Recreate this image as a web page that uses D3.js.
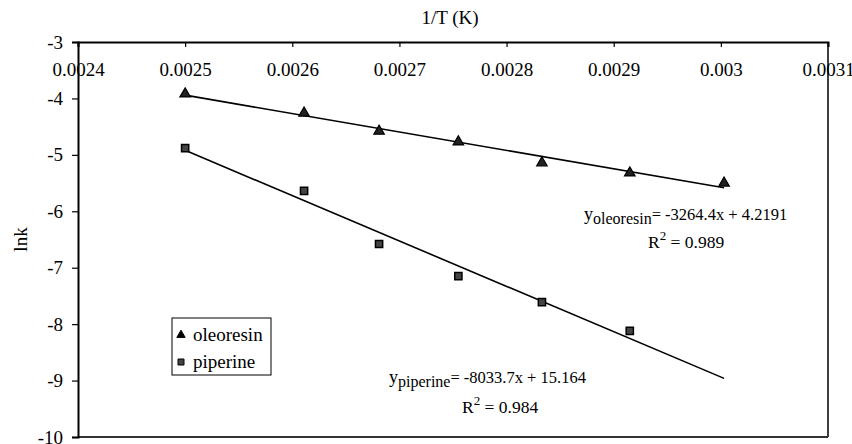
<!DOCTYPE html>
<html>
<head>
<meta charset="utf-8">
<script src="https://cdn.jsdelivr.net/npm/d3@7"></script>
<style>
  html, body { margin: 0; padding: 0; background: #fff; }
  svg text { font-family: "Liberation Serif", "Times New Roman", Times, serif !important; }
</style>
</head>
<body>
<div id="chart"></div>
<script>
// 1/T values (K^-1) and ln k for each series
const invT = [0.0025, 0.002611, 0.002681, 0.002755, 0.002833, 0.002915, 0.003003];
const oleoresin = [-3.92, -4.26, -4.58, -4.77, -5.14, -5.32, -5.50];
const piperine = [-4.88, -5.64, -6.58, -7.15, -7.61, -8.12];

const xTicks = [0.0024, 0.0025, 0.0026, 0.0027, 0.0028, 0.0029, 0.003, 0.0031];
const yTicks = [-3, -4, -5, -6, -7, -8, -9, -10];

// trendline coefficients as printed on the chart
const oleoresinFit = { slope: -3264.4, intercept: 4.2191, r2: '0.989' };
const piperineFit = { slope: -8033.7, intercept: 15.164, r2: '0.984' };

const width = 852, height = 444;
const margin = { top: 42, right: 24, bottom: 7, left: 78 };
const fontSize = 19;

const svg = d3.select('#chart').append('svg')
  .attr('width', width)
  .attr('height', height)
  .attr('font-family', 'Liberation Serif, serif');

const x = d3.scaleLinear()
  .domain([0.0024, 0.0031])
  .range([margin.left, width - margin.right]);
const y = d3.scaleLinear()
  .domain([-3, -10])
  .range([margin.top, height - margin.bottom]);

// plot frame (right and bottom edges)
svg.append('line')
  .attr('x1', x(0.0031)).attr('x2', x(0.0031))
  .attr('y1', y(-3)).attr('y2', y(-10))
  .attr('stroke', '#000').attr('stroke-width', 1.5);
svg.append('line')
  .attr('x1', x(0.0024)).attr('x2', x(0.0031))
  .attr('y1', y(-10)).attr('y2', y(-10))
  .attr('stroke', '#333').attr('stroke-width', 2);

// x axis sits along the top, ticks point into the plot
const xAxis = svg.append('g')
  .attr('transform', `translate(0,${y(-3)})`)
  .call(d3.axisBottom(x).tickValues(xTicks).tickSize(5).tickPadding(16)
    .tickFormat(d => String(+d.toFixed(4))));

const yAxis = svg.append('g')
  .attr('transform', `translate(${x(0.0024)},0)`)
  .call(d3.axisLeft(y).tickValues(yTicks).tickSize(6).tickPadding(9)
    .tickFormat(d => String(d)));

[xAxis, yAxis].forEach(ax => {
  ax.attr('font-family', null).attr('font-size', fontSize);
  ax.select('.domain').attr('stroke', '#000').attr('stroke-width', 2);
  ax.selectAll('.tick line').attr('stroke', '#000').attr('stroke-width', 1.2);
  ax.selectAll('.tick text').attr('fill', '#000');
});

// axis titles
svg.append('text')
  .attr('x', (x(0.0024) + x(0.0031)) / 2 - 3)
  .attr('y', 24)
  .attr('text-anchor', 'middle')
  .attr('font-size', fontSize)
  .text('1/T (K)');

svg.append('text')
  .attr('transform', `translate(27,${(y(-3) + y(-10)) / 2}) rotate(-90)`)
  .attr('text-anchor', 'middle')
  .attr('font-size', fontSize)
  .text('lnk');

// trendlines
const fitLine = d3.line().x(d => x(d[0])).y(d => y(d[1]));
const xs = d3.extent(invT);
[oleoresinFit, piperineFit].forEach(fit => {
  svg.append('path')
    .attr('d', fitLine(xs.map(v => [v, fit.slope * v + fit.intercept])))
    .attr('fill', 'none')
    .attr('stroke', '#000')
    .attr('stroke-width', 1.6);
});

// markers
const tri = d3.symbol().type(d3.symbolTriangle).size(48);
const sq = d3.symbol().type(d3.symbolSquare).size(52);

svg.append('g').selectAll('path')
  .data(oleoresin)
  .join('path')
    .attr('transform', (d, i) => `translate(${x(invT[i])},${y(d)})`)
    .attr('d', tri)
    .attr('fill', '#222')
    .attr('stroke', '#000')
    .attr('stroke-width', 1.2);

svg.append('g').selectAll('path')
  .data(piperine)
  .join('path')
    .attr('transform', (d, i) => `translate(${x(invT[i])},${y(d)})`)
    .attr('d', sq)
    .attr('fill', '#444')
    .attr('stroke', '#000')
    .attr('stroke-width', 1.5);

// legend
const legend = svg.append('g').attr('transform', 'translate(172,318)');
legend.append('rect')
  .attr('width', 99).attr('height', 57)
  .attr('fill', '#fff').attr('stroke', '#000').attr('stroke-width', 1);
const legendItems = [
  { name: 'oleoresin', symbol: d3.symbol().type(d3.symbolTriangle).size(30), fill: '#000' },
  { name: 'piperine', symbol: d3.symbol().type(d3.symbolSquare).size(36), fill: '#444' }
];
legendItems.forEach((item, i) => {
  const g = legend.append('g').attr('transform', `translate(0,${17 + i * 27})`);
  g.append('path')
    .attr('transform', 'translate(9,0)')
    .attr('d', item.symbol())
    .attr('fill', item.fill)
    .attr('stroke', '#000')
    .attr('stroke-width', 1);
  g.append('text')
    .attr('x', 21).attr('y', 6)
    .attr('font-size', fontSize)
    .text(item.name);
});

// regression labels
function equationLabel(name, fit, ex, ey, rx, ry) {
  const t = svg.append('text')
    .attr('x', ex).attr('y', ey)
    .attr('font-size', 16.5);
  t.append('tspan').attr('font-size', 18).text('y');
  t.append('tspan').attr('font-size', 16).attr('dy', 4).text(name);
  t.append('tspan').attr('dy', -4)
    .text(`= ${fit.slope}x + ${fit.intercept}`);

  const r = svg.append('text')
    .attr('x', rx).attr('y', ry)
    .attr('font-size', 17.5);
  r.append('tspan').text('R');
  r.append('tspan').attr('font-size', 13).attr('dy', -8).text('2');
  r.append('tspan').attr('dy', 8).text(` = ${fit.r2}`);
}
equationLabel('oleoresin', oleoresinFit, 584, 220, 648, 248);
equationLabel('piperine', piperineFit, 389, 383, 462, 413);
</script>
</body>
</html>
